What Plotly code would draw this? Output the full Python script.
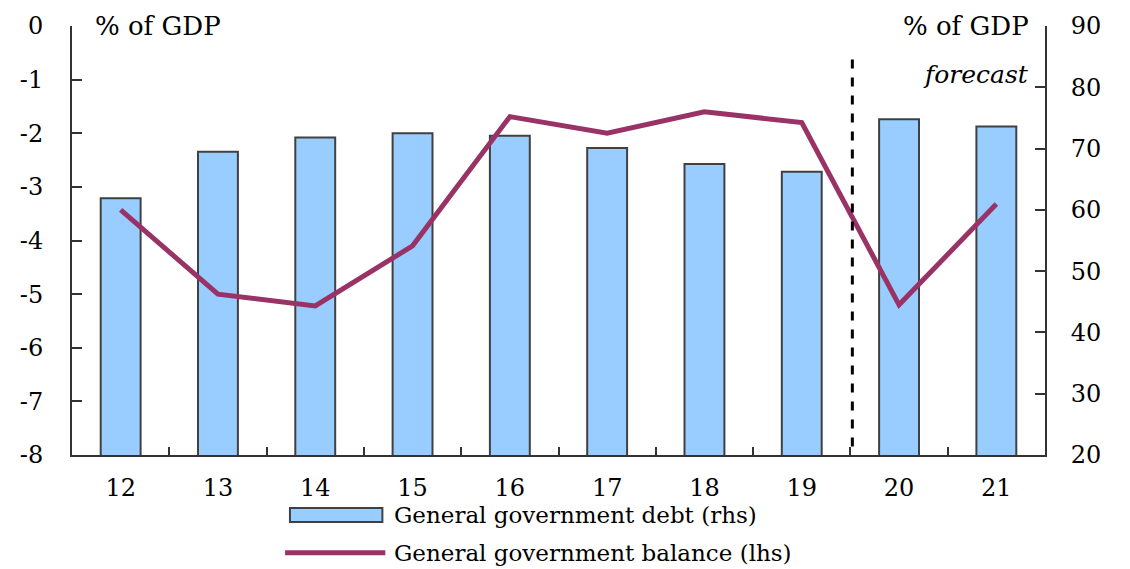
import plotly.graph_objects as go

years = ["12", "13", "14", "15", "16", "17", "18", "19", "20", "21"]
debt_rhs = [61.9, 69.5, 71.8, 72.5, 72.1, 70.1, 67.5, 66.2, 74.8, 73.6]
balance_lhs = [-3.43, -5.0, -5.22, -4.1, -1.69, -2.0, -1.6, -1.8, -5.2, -3.32]
left_ticks = [0, -1, -2, -3, -4, -5, -6, -7, -8]
left_labels = ["0", "-1", "-2", "-3", "-4", "-5", "-6", "-7", "-8"]
right_ticks = [20, 30, 40, 50, 60, 70, 80, 90]

FONT = "DejaVu Serif"
BAR_COLOR = "#99CCFF"
LINE_COLOR = "#993366"
AXIS_COLOR = "#333333"

fig = go.Figure()
fig.add_trace(go.Bar(
    x=years, y=debt_rhs, yaxis="y", name="General government debt (rhs)",
    marker=dict(color=BAR_COLOR, line=dict(color="#404040", width=2)),
))
fig.add_trace(go.Scatter(
    x=years, y=balance_lhs, yaxis="y2", mode="lines",
    name="General government balance (lhs)",
    line=dict(color=LINE_COLOR, width=5),
))

# page body has an 8px margin, so the figure is sized to fit the window
fig.update_layout(
    width=1122, height=561,
    margin=dict(l=64, r=85, t=18, b=114, autoexpand=False),
    plot_bgcolor="white", paper_bgcolor="white",
    showlegend=False, bargap=0.59,
    font=dict(family=FONT, size=22, color="black"),
    xaxis=dict(
        type="category", tickson="boundaries", ticks="inside", ticklen=8,
        tickwidth=2, tickcolor=AXIS_COLOR, showline=True, linecolor=AXIS_COLOR,
        linewidth=2, showgrid=False, tickfont=dict(family=FONT, size=24),
        ticklabelstandoff=10, automargin=False,
    ),
    yaxis=dict(
        side="right", range=[20, 90], tickvals=right_ticks,
        ticks="inside", ticklen=10, tickwidth=2, tickcolor=AXIS_COLOR,
        showline=True, linecolor=AXIS_COLOR, linewidth=2, showgrid=False,
        zeroline=False, tickfont=dict(family=FONT, size=24),
        ticklabelstandoff=19, automargin=False,
    ),
    yaxis2=dict(
        side="left", overlaying="y", range=[-8, 0], tickvals=left_ticks,
        ticktext=left_labels,
        ticks="inside", ticklen=10, tickwidth=2, tickcolor=AXIS_COLOR,
        showline=True, linecolor=AXIS_COLOR, linewidth=2, showgrid=False,
        zeroline=False, tickfont=dict(family=FONT, size=24),
        ticklabelstandoff=22, automargin=False,
    ),
)

# forecast divider
fig.add_shape(type="line", xref="x", yref="paper", x0=7.52, x1=7.52,
              y0=0.02, y1=0.94, line=dict(color="black", width=3, dash="dash"))

fig.add_annotation(xref="paper", yref="paper", x=0.022, y=1.0, xanchor="left",
                   yanchor="middle", text="% of GDP", showarrow=False,
                   font=dict(family=FONT, size=26))
fig.add_annotation(xref="paper", yref="paper", x=0.986, y=1.0, xanchor="right",
                   yanchor="middle", text="% of GDP", showarrow=False,
                   font=dict(family=FONT, size=26))
fig.add_annotation(xref="paper", yref="paper", x=0.986, y=0.887, xanchor="right",
                   yanchor="middle", text="<i>forecast</i>", showarrow=False,
                   font=dict(family=FONT, size=25))

# manual legend
fig.add_shape(type="rect", xref="paper", yref="paper", x0=0.224, x1=0.319,
              y0=-0.156, y1=-0.1235, fillcolor=BAR_COLOR,
              line=dict(color="#404040", width=2))
fig.add_shape(type="line", xref="paper", yref="paper", x0=0.219, x1=0.322,
              y0=-0.228, y1=-0.228, line=dict(color=LINE_COLOR, width=5))
fig.add_annotation(xref="paper", yref="paper", x=0.329, y=-0.14, xanchor="left",
                   yanchor="middle", text="General government debt (rhs)",
                   showarrow=False, font=dict(family=FONT, size=23))
fig.add_annotation(xref="paper", yref="paper", x=0.329, y=-0.228, xanchor="left",
                   yanchor="middle", text="General government balance (lhs)",
                   showarrow=False, font=dict(family=FONT, size=23))

fig.write_html("out.html")
